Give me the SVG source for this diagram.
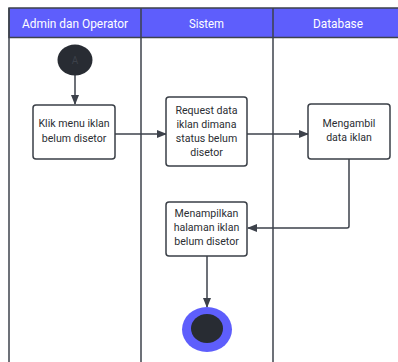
<svg xmlns="http://www.w3.org/2000/svg" width="398" height="362" viewBox="0 0 398 362">
<style>
.lane{fill:none;stroke:#3d424b;stroke-width:1.5}
.hdr{fill:#5e5efc;stroke:#3d424b;stroke-width:1.5}
.ht{font-family:Roboto,"Liberation Sans",sans-serif;font-size:13.5px;fill:#ffffff;text-anchor:middle}
.box{fill:#ffffff;stroke:#3a3f47;stroke-width:1.5}
.bt{font-family:Roboto,"Liberation Sans",sans-serif;font-size:10.6px;fill:#2b2e33;text-anchor:middle}
.edge{fill:none;stroke:#3d424b;stroke-width:1.5}
</style>
<defs>
<marker id="ah" markerWidth="10" markerHeight="8" refX="9" refY="4" orient="auto" markerUnits="userSpaceOnUse">
<path d="M0,0 L10,4 L0,8 Z" fill="#3d424b"/>
</marker>
</defs>
<rect width="398" height="362" fill="#ffffff"/>
<g id="pool">
<rect class="hdr" x="9" y="8" width="400" height="29.5"/>
<line class="lane" x1="9" y1="8" x2="9" y2="362"/>
<line class="lane" x1="141" y1="8" x2="141" y2="362"/>
<line class="lane" x1="273" y1="8" x2="273" y2="362"/>
<text class="ht" x="75" y="27.5" textLength="106" lengthAdjust="spacingAndGlyphs">Admin dan Operator</text>
<text class="ht" x="206.5" y="27.5" textLength="35" lengthAdjust="spacingAndGlyphs">Sistem</text>
<text class="ht" x="338" y="27.5" textLength="50" lengthAdjust="spacingAndGlyphs">Database</text>
</g>
<g id="edges">
<line class="edge" x1="75" y1="75" x2="75" y2="104" marker-end="url(#ah)"/>
<line class="edge" x1="115" y1="134" x2="166" y2="134" marker-end="url(#ah)"/>
<line class="edge" x1="247" y1="134" x2="308" y2="134" marker-end="url(#ah)"/>
<path class="edge" d="M349,159 V226 Q349,228 347,228 H248" marker-end="url(#ah)"/>
<line class="edge" x1="207" y1="256" x2="207" y2="307" marker-end="url(#ah)"/>
</g>
<g id="start">
<ellipse cx="75" cy="60" rx="17.5" ry="15.5" fill="#282c33"/>
<text x="75" y="64" font-family="Roboto,'Liberation Sans',sans-serif" font-size="10px" fill="#3c414a" text-anchor="middle">A</text>
</g>
<g id="n1">
<rect class="box" x="33" y="105" width="82" height="54" rx="3"/>
<text class="bt" x="74" y="127">Klik menu iklan</text>
<text class="bt" x="74" y="142">belum disetor</text>
</g>
<g id="n2">
<rect class="box" x="166" y="97" width="81" height="69" rx="3"/>
<text class="bt" x="206.5" y="114">Request data</text>
<text class="bt" x="206.5" y="128">iklan dimana</text>
<text class="bt" x="206.5" y="142">status belum</text>
<text class="bt" x="206.5" y="156">disetor</text>
</g>
<g id="n3">
<rect class="box" x="308" y="104" width="82" height="55" rx="3"/>
<text class="bt" x="349" y="127">Mengambil</text>
<text class="bt" x="349" y="141">data iklan</text>
</g>
<g id="n4">
<rect class="box" x="166" y="202" width="81" height="54" rx="3"/>
<text class="bt" x="206.5" y="217">Menampilkan</text>
<text class="bt" x="206.5" y="231">halaman iklan</text>
<text class="bt" x="206.5" y="245">belum disetor</text>
</g>
<g id="end">
<ellipse cx="207" cy="329.5" rx="25" ry="22.5" fill="#5e5efc"/>
<ellipse cx="207" cy="328.5" rx="16" ry="14.5" fill="#282c33"/>
</g>
</svg>
